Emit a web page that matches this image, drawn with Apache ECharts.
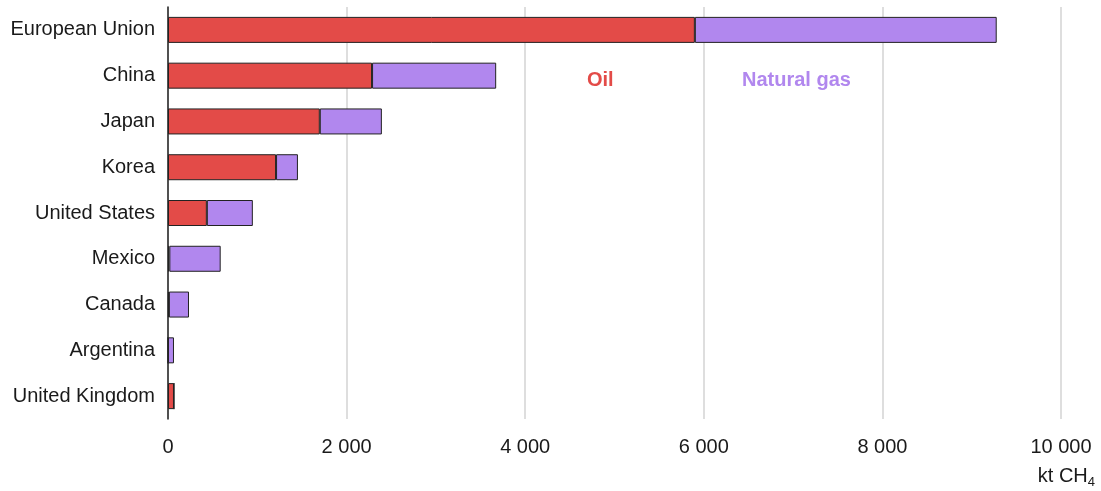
<!DOCTYPE html>
<html>
<head>
<meta charset="utf-8">
<script src="https://cdn.jsdelivr.net/npm/echarts@6/dist/echarts.min.js"></script>
<style>
html,body{margin:0;padding:0;background:#fff;}
#chart{width:1101px;height:491px;}
</style>
</head>
<body>
<div id="chart"></div>
<script>
const categories = ['European Union','China','Japan','Korea','United States','Mexico','Canada','Argentina','United Kingdom'];
const oilValues = [5900, 2285, 1700, 1210, 435, 15, 10, 0, 67];
const gasValues = [3380, 1390, 695, 245, 515, 575, 225, 67, 0];
const xTicks = [0, 2000, 4000, 6000, 8000, 10000];

const chart = echarts.init(document.getElementById('chart'));
const fmt = v => String(v).replace(/\B(?=(\d{3})+(?!\d))/g, ' ');
const FF = '"Liberation Sans", Arial, sans-serif';
chart.setOption({
  animation: false,
  grid: {left: 168, right: 40, top: 7, bottom: 72, containLabel: false},
  xAxis: {
    type: 'value', min: xTicks[0], max: xTicks[xTicks.length-1], interval: 2000,
    axisLine: {show: false}, axisTick: {show: false},
    splitLine: {show: true, lineStyle: {color: '#dedede', width: 2}},
    axisLabel: {margin: 18, fontFamily: FF, fontSize: 20, color: '#1a1a1a', formatter: fmt}
  },
  yAxis: {
    type: 'category', data: categories, inverse: true,
    axisLine: {show: true, lineStyle: {color: '#222', width: 1.5}},
    axisTick: {show: false},
    axisLabel: {margin: 13, fontFamily: FF, fontSize: 20, color: '#1a1a1a'}
  },
  series: [
    {name: 'Oil', type: 'bar', stack: 'total', data: oilValues, barWidth: 26,
     itemStyle: {color: '#e34b48', borderColor: '#222', borderWidth: 1}},
    {name: 'Natural gas', type: 'bar', stack: 'total', data: gasValues, barWidth: 26,
     itemStyle: {color: '#b187ee', borderColor: '#222', borderWidth: 1}}
  ],
  graphic: [
    {type: 'text', left: 587, top: 70, style: {text: 'Oil', fill: '#e34b48', font: 'bold 20px "Liberation Sans", Arial'}},
    {type: 'text', left: 742, top: 70, style: {text: 'Natural gas', fill: '#b187ee', font: 'bold 20px "Liberation Sans", Arial'}},
    {type: 'text', right: 6, top: 466, style: {
      text: '{a|kt CH}{b|4}',
      rich: {
        a: {fontFamily: FF, fontSize: 20, fill: '#1a1a1a'},
        b: {fontFamily: FF, fontSize: 13, fill: '#1a1a1a', padding: [12, 0, 0, 0]}
      }
    }}
  ]
});
</script>
</body>
</html>
